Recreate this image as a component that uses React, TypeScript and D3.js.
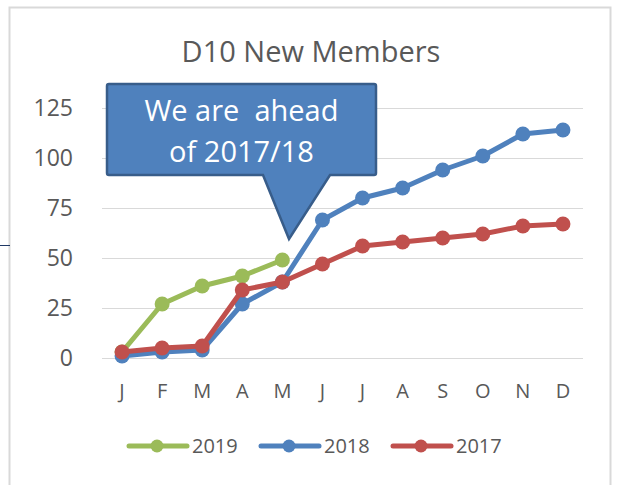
import React from "react";
import * as d3 from "d3";

const months = ["J", "F", "M", "A", "M", "J", "J", "A", "S", "O", "N", "D"];
const yTicks = [0, 25, 50, 75, 100, 125];
const seriesNames = ["2019", "2018", "2017"];
const values2019 = [3, 27, 36, 41, 49];
const values2018 = [1, 3, 4, 27, 38, 69, 80, 85, 94, 101, 112, 114];
const values2017 = [3, 5, 6, 34, 38, 47, 56, 58, 60, 62, 66, 67];
const colors = ["#9BBB59", "#4F81BD", "#C0504D"];
const title = "D10 New Members";
const calloutLines = ["We are  ahead", "of 2017/18"];

const W = 619;
const H = 485;
const font = "'Open Sans', 'Liberation Sans', sans-serif";

export default function App() {
  const idx = months.map((_, i) => String(i));
  const x = d3.scalePoint<string>().domain(idx).range([102, 583]).padding(0.5);
  const y = d3.scaleLinear().domain([0, 125]).range([358, 108]);
  const allSeries = [values2019, values2018, values2017];
  const line = d3
    .line<number>()
    .x((_, i) => x(String(i)) as number)
    .y((d) => y(d));

  // callout geometry
  const bx0 = 107, bx1 = 376, by0 = 84, by1 = 175;
  const px0 = 263, px1 = 330, tipX = 289, tipY = 239;
  const r = 2;
  const calloutPath = [
    `M${bx0 + r},${by0}`,
    `L${bx1 - r},${by0}`,
    `Q${bx1},${by0} ${bx1},${by0 + r}`,
    `L${bx1},${by1 - r}`,
    `Q${bx1},${by1} ${bx1 - r},${by1}`,
    `L${px1},${by1}`,
    `L${tipX},${tipY}`,
    `L${px0},${by1}`,
    `L${bx0 + r},${by1}`,
    `Q${bx0},${by1} ${bx0},${by1 - r}`,
    `L${bx0},${by0 + r}`,
    `Q${bx0},${by0} ${bx0 + r},${by0}`,
    "Z",
  ].join(" ");

  const legendX = [129, 261, 393];

  return (
    <svg
      width={W}
      height={H}
      style={{ position: "fixed", left: 0, top: 0, background: "#fff" }}
    >
      <rect x={0} y={0} width={W} height={H} fill="#fff" />
      <rect x={9.5} y={7.5} width={601} height={500} fill="#fff" stroke="#D9D9D9" strokeWidth={2} />
      <line x1={0} x2={10} y1={245.5} y2={245.5} stroke="#1F3864" strokeWidth={1} />

      <text x={311} y={62} textAnchor="middle" fontFamily={font} fontSize={29} fill="#595959">
        {title}
      </text>

      {yTicks.map((t) => (
        <g key={t}>
          <line x1={102} x2={583} y1={Math.round(y(t)) + 0.5} y2={Math.round(y(t)) + 0.5} stroke="#D9D9D9" strokeWidth={1.2} />
          <text x={73} y={y(t) + 8} textAnchor="end" fontFamily={font} fontSize={23} fill="#595959">
            {t}
          </text>
        </g>
      ))}

      {months.map((m, i) => (
        <text key={i} x={x(String(i)) as number} y={398} textAnchor="middle" fontFamily={font} fontSize={20} fill="#595959">
          {m}
        </text>
      ))}

      {allSeries.map((vals, s) => (
        <g key={s}>
          <path d={line(vals) || ""} fill="none" stroke={colors[s]} strokeWidth={5} strokeLinejoin="round" strokeLinecap="round" />
          {vals.map((v, i) => (
            <circle key={i} cx={x(String(i)) as number} cy={y(v)} r={7.5} fill={colors[s]} />
          ))}
        </g>
      ))}

      <path d={calloutPath} fill="#4F81BD" stroke="#385D8A" strokeWidth={2.5} strokeLinejoin="miter" />
      {calloutLines.map((t, i) => (
        <text key={i} x={241.5} y={121 + i * 41} textAnchor="middle" fontFamily={font} fontSize={29} fill="#fff" style={{ whiteSpace: "pre" }}>
          {t}
        </text>
      ))}

      {seriesNames.map((n, s) => (
        <g key={n}>
          <line x1={legendX[s]} x2={legendX[s] + 58} y1={446} y2={446} stroke={colors[s]} strokeWidth={5} strokeLinecap="round" />
          <circle cx={legendX[s] + 28} cy={446} r={6.5} fill={colors[s]} />
          <text x={legendX[s] + 63} y={453} fontFamily={font} fontSize={20} fill="#595959">
            {n}
          </text>
        </g>
      ))}
    </svg>
  );
}
